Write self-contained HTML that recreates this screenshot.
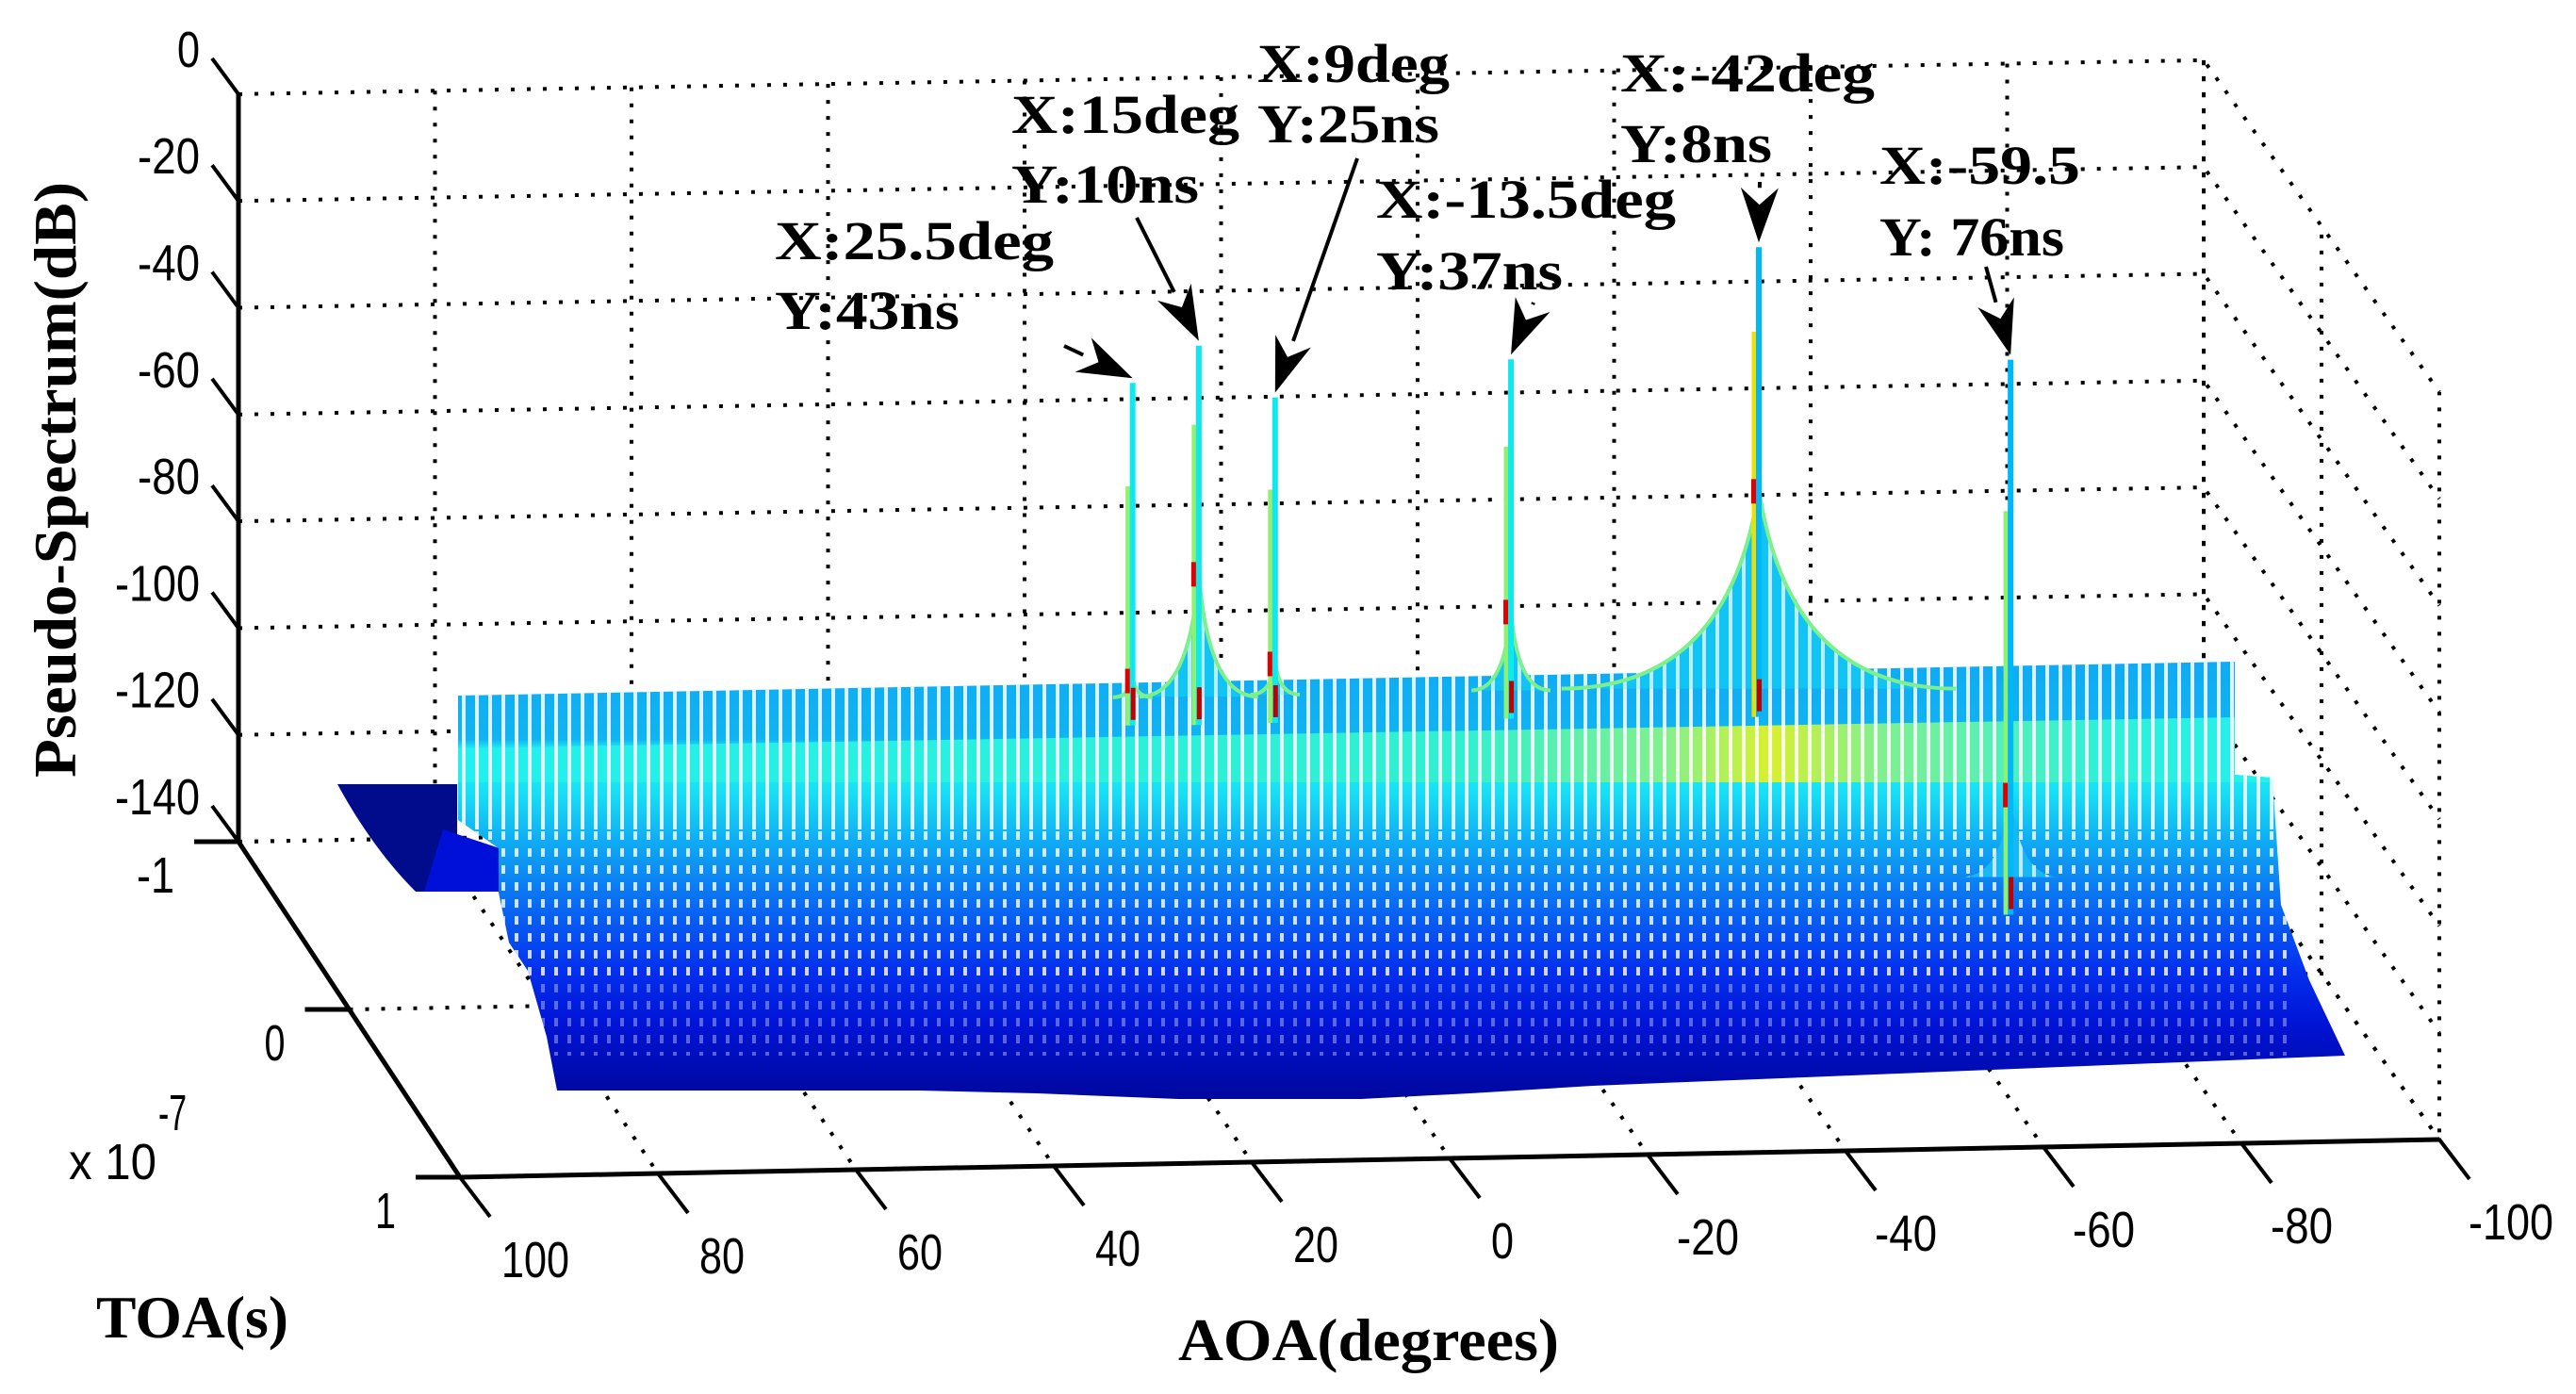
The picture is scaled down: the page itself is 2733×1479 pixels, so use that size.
<!DOCTYPE html>
<html><head><meta charset="utf-8"><title>MUSIC pseudo-spectrum</title>
<style>
html,body{margin:0;padding:0;background:#fff;}
svg{display:block;}
.tk{font-family:"Liberation Sans",sans-serif;font-size:54px;fill:#000;}
.an{font-family:"Liberation Serif",serif;font-weight:bold;font-size:58px;fill:#000;}
.ti{font-family:"Liberation Serif",serif;font-weight:bold;font-size:64px;fill:#000;}
</style></head>
<body>
<svg id="chart" xmlns="http://www.w3.org/2000/svg" width="2733" height="1479" viewBox="0 0 2733 1479">
<defs>
<linearGradient id="surfGrad" gradientUnits="userSpaceOnUse" x1="0" y1="700" x2="0" y2="1170">
<stop offset="0" stop-color="#10aaf2"/>
<stop offset="0.18" stop-color="#10b4f2"/>
<stop offset="0.2" stop-color="#20eef0"/>
<stop offset="0.3" stop-color="#18e0f4"/>
<stop offset="0.4" stop-color="#10b0f4"/>
<stop offset="0.55" stop-color="#0a6cf2"/>
<stop offset="0.7" stop-color="#0430ee"/>
<stop offset="0.82" stop-color="#0014d6"/>
<stop offset="1" stop-color="#00069a"/>
</linearGradient>
<linearGradient id="bandGrad" gradientUnits="userSpaceOnUse" x1="486" y1="0" x2="2420" y2="0">
<stop offset="0" stop-color="#22f0ee"/>
<stop offset="0.55" stop-color="#30f0d0"/>
<stop offset="0.66" stop-color="#80f090"/>
<stop offset="0.72" stop-color="#d8f030"/>
<stop offset="0.78" stop-color="#80f090"/>
<stop offset="0.9" stop-color="#30f0d8"/>
<stop offset="1" stop-color="#22f0ee"/>
</linearGradient>
<pattern id="stripes" patternUnits="userSpaceOnUse" width="14" height="40">
<rect x="0" y="0" width="4" height="40" fill="#fff"/>
</pattern>
<pattern id="dots" patternUnits="userSpaceOnUse" width="14" height="18">
<rect x="0" y="0" width="4" height="9" fill="#fff"/>
</pattern>
<clipPath id="surfClip"><path id="surfClipPath" d="M486,738 L2371,702 L2371,822 L2411,825 L2420,960 L2450,1040 L2488,1120 L1789,1148 L1690,1152 L1560,1160 L1444,1166 L1250,1166 L1100,1160 L975,1157 L591,1157 L580,1100 L560,1030 L540,1000 L529,947 L529,900 L486,870 Z"/></clipPath>
</defs>
<g id="grid"></g>
<g id="surface"></g>
<g id="axes"></g>
<g id="annots"></g>
<text class="ti" x="0" y="0" transform="translate(80,509) rotate(-90)" text-anchor="middle" textLength="632" lengthAdjust="spacingAndGlyphs" font-size="62">Pseudo-Spectrum(dB)</text>
<text class="ti" x="102" y="1419" textLength="204" lengthAdjust="spacingAndGlyphs">TOA(s)</text>
<text class="ti" x="1250" y="1443" textLength="404" lengthAdjust="spacingAndGlyphs">AOA(degrees)</text>
<text class="tk" x="73" y="1251" textLength="93" lengthAdjust="spacingAndGlyphs">x 10</text>
<text class="tk" x="168" y="1199" font-size="40" textLength="30" lengthAdjust="spacingAndGlyphs">-7</text>
</svg>
<script>
// ---- data ----
const zTicks = [0, -20, -40, -60, -80, -100, -120, -140];
const toaTicks = [-1, 0, 1];
const aoaTicks = [100, 80, 60, 40, 20, 0, -20, -40, -60, -80, -100];
const peakAoa = [25.5, 15, 9, -13.5, -42, -59.5];
const peakToa = [0.43, -0.9, -0.5, -0.26, -0.92, 0.76];
const peakDb = [-11.7, -15.4, -20.6, -10.5, 0.5, 0];
const humpDb = [-67, -57.7, -70, -57.3, -44.7, -81];
const humpWidthDeg = [2, 6, 2.5, 4, 20, 5];
const annX = ["X:25.5deg", "X:15deg", "X:9deg", "X:-13.5deg", "X:-42deg", "X:-59.5"];
const annY = ["Y:43ns", "Y:10ns", "Y:25ns", "Y:37ns", "Y:8ns", "Y: 76ns"];

// ---- geometry (projection) ----
const NS = "http://www.w3.org/2000/svg";
const BL = [253, 893], BR = [2338, 857], FL = [488, 1249], FR = [2588, 1209];
const K = 5.665; // px per dB
function vOf(i){ return [0.715,0.55,0.625,0.685,0.54,0.88][i]; }
function proj(aoa, v, z){
  const u = (100 - aoa) / 200;
  const bx = BL[0] + u*(BR[0]-BL[0]), by = BL[1] + u*(BR[1]-BL[1]);
  const fx = FL[0] + u*(FR[0]-FL[0]), fy = FL[1] + u*(FR[1]-FL[1]);
  return [bx + v*(fx-bx), by + v*(fy-by) - (z+140)*K];
}
function el(tag, attrs, parent){
  const e = document.createElementNS(NS, tag);
  for (const k in attrs) e.setAttribute(k, attrs[k]);
  parent.appendChild(e);
  return e;
}
const grid = document.getElementById('grid');
const surf = document.getElementById('surface');
const axes = document.getElementById('axes');
const ann = document.getElementById('annots');
const dot = {stroke:'#000','stroke-width':4,'stroke-dasharray':'4 13',fill:'none'};

zTicks.forEach(z => {
  const a = proj(100,0,z), b = proj(-100,0,z), c = proj(-100,1,z);
  const l = el('polyline', Object.assign({points:`${a[0]},${a[1]} ${b[0]},${b[1]} ${c[0]},${c[1]}`}, dot), grid);
  
  
});
aoaTicks.forEach(t => {
  const a = proj(t,0,0), b = proj(t,0,-140), c = proj(t,1,-140);
  const l = el('polyline', Object.assign({points:`${a[0]},${a[1]} ${b[0]},${b[1]} ${c[0]},${c[1]}`}, dot), grid);
  
  
});
toaTicks.forEach(t => {
  const v = (t+1)/2;
  const a = proj(100,v,-140), b = proj(-100,v,-140), c = proj(-100,v,0);
  const l = el('polyline', Object.assign({points:`${a[0]},${a[1]} ${b[0]},${b[1]} ${c[0]},${c[1]}`}, dot), grid);
  
  
});

// ---- surface ----
const shelf = el('path', {d:'M358,832 L485,832 L485,946 L441,946 Q395,900 358,832 Z', fill:'#000c8c'}, surf);


el('path', {d:'M470,880 L530,900 L540,946 L450,946 Z', fill:'#0010d8'}, surf);
const body = el('use', {href:'#surfClipPath', fill:'url(#surfGrad)'}, surf);


const band = el('path', {d:'M486,794 L2371,761 L2411,806 L2411,830 L486,830 Z', fill:'url(#bandGrad)', 'clip-path':'url(#surfClip)'}, surf);


const g1 = el('g', {'clip-path':'url(#surfClip)'}, surf);
el('rect', {x:480, y:700, width:1950, height:180, fill:'url(#stripes)', opacity:0.85}, g1);
el('rect', {x:480, y:880, width:1950, height:160, fill:'url(#dots)', opacity:0.8}, g1);
el('rect', {x:480, y:1040, width:1950, height:80, fill:'url(#dots)', opacity:0.35}, g1);

function wallY(x){ return 738 - (x-486)*(36/1885); }
peakAoa.forEach((aoa, i) => {
  const v = vOf(i);
  const top = proj(aoa, v, peakDb[i]);
  const ht = proj(aoa, v, humpDb[i]);
  const xl = proj(aoa + humpWidthDeg[i], v, humpDb[i])[0];
  const xr = proj(aoa - humpWidthDeg[i], v, humpDb[i])[0];
  const base = i === 5 ? ht[1] + 90 : Math.max(wallY(xl), wallY(xr)) + 15;
  const curve = `M${xl},${base} Q${top[0]-(top[0]-xl)*0.15},${base} ${top[0]},${ht[1]} Q${top[0]+(xr-top[0])*0.15},${base} ${xr},${base}`;
  const h = el('path', {d:curve + ' Z', fill: i===5 ? '#18b8f4' : '#12c4f4'}, surf);
  
  
  el('path', {d:curve + ' Z', fill:'url(#stripes)', opacity:0.7}, surf);
  if (i !== 5) el('path', {d:curve, fill:'none', stroke:'#7cf08c', 'stroke-width':4}, surf);
  const bot = i === 5 ? ht[1] + 130 : base + 30;
  const green = el('line', {x1:top[0]-5, y1:top[1]+ (ht[1]-top[1])*0.35, x2:top[0]-5, y2:bot, stroke: i===4 ? '#f0e000' : '#90f070', 'stroke-width':5}, surf);
  
  
  const sp = el('line', {x1:top[0], y1:top[1], x2:top[0], y2:bot, stroke: i>=4 ? '#00b8f8' : '#10e8f0', 'stroke-width':6}, surf);
  
  
  el('rect', {x:top[0]-8, y:ht[1]-10, width:5, height:26, fill:'#e00000'}, surf);
  el('rect', {x:top[0]-2, y:bot-40, width:5, height:34, fill:'#c00000'}, surf);
});

// ---- axes ----
const ax = {stroke:'#000','stroke-width':5,fill:'none'};
const zAxis = el('line', Object.assign({x1:253, y1:proj(100,0,0)[1], x2:BL[0], y2:BL[1]}, ax), axes);


const tAxis = el('line', Object.assign({x1:BL[0], y1:BL[1], x2:FL[0], y2:FL[1]}, ax), axes);


const aAxis = el('line', Object.assign({x1:FL[0], y1:FL[1], x2:FR[0], y2:FR[1]}, ax), axes);



zTicks.forEach(z => {
  const p = proj(100,0,z);
  el('line', {x1:p[0], y1:p[1], x2:p[0]-28, y2:p[1]-38, stroke:'#000','stroke-width':4}, axes);
  const s = String(z);
  const t = el('text', {x:212, y:p[1]-29, 'text-anchor':'end', class:'tk', textLength: (s.length - (z<0?1:0))*24 + (z<0?18:0), lengthAdjust:'spacingAndGlyphs'}, axes);
  t.textContent = s;
  
  
});
toaTicks.forEach(tv => {
  const p = proj(100,(tv+1)/2,-140);
  el('line', {x1:p[0], y1:p[1], x2:p[0]-47, y2:p[1], stroke:'#000','stroke-width':5}, axes);
  const s = String(tv);
  const t = el('text', {x:p[0]-68, y:p[1]+54, 'text-anchor':'end', class:'tk', textLength: (s.length - (tv<0?1:0))*22 + (tv<0?18:0), lengthAdjust:'spacingAndGlyphs'}, axes);
  t.textContent = s;
  
  
});
aoaTicks.forEach(av => {
  const p = proj(av,1,-140);
  el('line', {x1:p[0], y1:p[1], x2:p[0]+32, y2:p[1]+42, stroke:'#000','stroke-width':4}, axes);
  const s = String(av);
  const t = el('text', {x:p[0]+(av<0?31:44), y:p[1]+106, class:'tk', textLength: (s.length - (av<0?1:0))*24 + (av<0?18:0), lengthAdjust:'spacingAndGlyphs'}, axes);
  t.textContent = s;
  
  
});

// ---- annotations ----
const annPos = [[822,275,296,349,196,1129,367],[1073,141,242,215,199,1206,231],[1334,87,204,151,193,1440,168],[1460,231,318,307,198,1627,321],[1719,97,270,172,161,1867,193],[1994,195,213,271,196,2107,283]];
peakAoa.forEach((aoa, i) => {
  const q = annPos[i];
  const tip = proj(aoa, vOf(i), peakDb[i]);
  const tx = el('text', {x:q[0], y:q[1], class:'an', textLength:q[2], lengthAdjust:'spacingAndGlyphs'}, ann);
  tx.textContent = annX[i];
  
  
  const ty = el('text', {x:q[0], y:q[3], class:'an', textLength:q[4], lengthAdjust:'spacingAndGlyphs'}, ann);
  ty.textContent = annY[i];
  
  
  const dx = tip[0]-q[5], dy = tip[1]-5-q[6], L = Math.hypot(dx,dy), ux = dx/L, uy = dy/L;
  const hx = tip[0], hy = tip[1]-5, bx = hx-ux*58, by = hy-uy*58;
  const ar = el('line', {x1:q[5], y1:q[6], x2:bx, y2:by, stroke:'#000','stroke-width':4}, ann);
  
  
  const hd = el('polygon', {points:`${hx},${hy} ${bx-uy*20},${by+ux*20} ${hx-ux*40},${hy-uy*40} ${bx+uy*20},${by-ux*20}`, fill:'#000'}, ann);
  
  
});
</script>
</body></html>
